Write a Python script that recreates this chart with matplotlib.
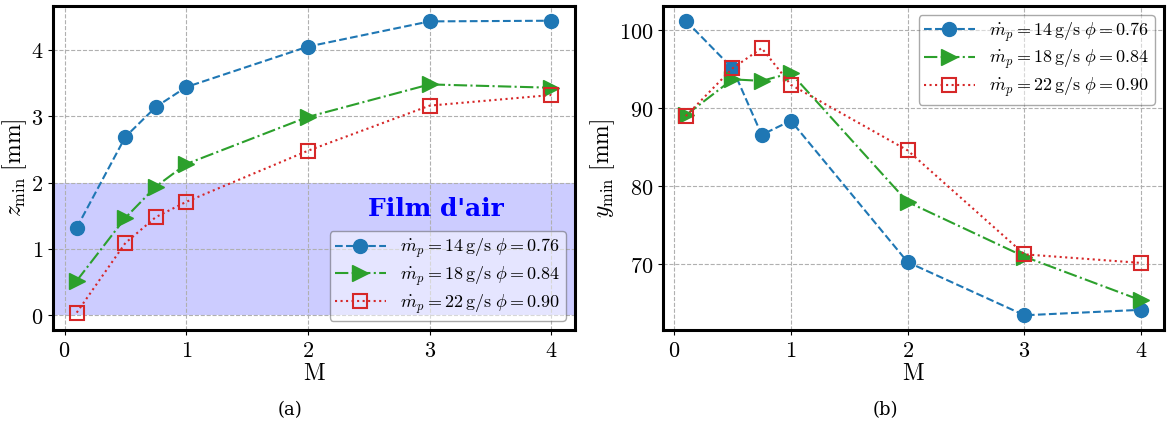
import matplotlib
matplotlib.use("Agg")
import matplotlib.pyplot as plt

plt.rcParams['mathtext.fontset'] = 'cm'
plt.rcParams['font.family'] = ['DejaVu Serif']

M = [0.1, 0.5, 0.75, 1, 2, 3, 4]

# z_min [mm]
z_14 = [1.32, 2.69, 3.14, 3.44, 4.05, 4.43, 4.44]
z_18 = [0.52, 1.47, 1.94, 2.28, 2.99, 3.48, 3.43]
z_22 = [0.04, 1.09, 1.48, 1.71, 2.48, 3.16, 3.32]

# y_min [mm]
y_14 = [101.2, 95.1, 86.6, 88.4, 70.3, 63.5, 64.2]
y_18 = [89.1, 93.7, 93.5, 94.5, 78.0, 71.0, 65.4]
y_22 = [89.0, 95.1, 97.7, 93.0, 84.6, 71.3, 70.2]

labels = [r'$\dot{m}_p = 14\,\mathrm{g/s}\ \phi = 0.76$',
          r'$\dot{m}_p = 18\,\mathrm{g/s}\ \phi = 0.84$',
          r'$\dot{m}_p = 22\,\mathrm{g/s}\ \phi = 0.90$']

styles = [dict(color='#1f77b4', ls='--', marker='o', ms=10, mfc='#1f77b4'),
          dict(color='#2ca02c', ls='-.', marker='>', ms=11, mfc='#2ca02c'),
          dict(color='#d62728', ls=':', marker='s', ms=10, mfc='none', mew=1.5)]

fig = plt.figure(figsize=(11.72, 4.32), dpi=100)
ax1 = fig.add_axes([53/1172, 102/432, 522/1172, 324/432])
ax2 = fig.add_axes([663/1172, 102/432, 501/1172, 324/432])


def style_axes(ax, ylabel, yticks):
    ax.grid(True, ls='--', color='#b0b0b0', lw=0.8)
    ax.set_axisbelow(True)
    for sp in ax.spines.values():
        sp.set_linewidth(2.2)
        sp.set_color('black')
    ax.set_xticks([0, 1, 2, 3, 4])
    ax.set_xticklabels([f'${v}$' for v in [0, 1, 2, 3, 4]], fontsize=16)
    ax.set_yticks(yticks)
    ax.set_yticklabels([f'${v}$' for v in yticks], fontsize=16)
    ax.set_xlabel(r'$\mathrm{M}$', fontsize=17, labelpad=0)
    ax.set_ylabel(ylabel, fontsize=17, labelpad=1)


for vals, st, lab in zip([z_14, z_18, z_22], styles, labels):
    ax1.plot(M, vals, lw=1.5, label=lab, **st)
ax1.axhspan(0, 2, color='blue', alpha=0.2, lw=0, zorder=0)
ax1.text(3.05, 1.6, "Film d'air", color='blue', fontsize=18, fontweight='bold',
         family='DejaVu Serif', ha='center', va='center')
style_axes(ax1, r'$z_{\min}\ [\mathrm{mm}]$', [0, 1, 2, 3, 4])
leg1 = ax1.legend(loc='lower right', fontsize=13, framealpha=0.5,
                  edgecolor='#555555', handlelength=2.8,
                  labelspacing=0.25, borderpad=0.3)

for vals, st, lab in zip([y_14, y_18, y_22], styles, labels):
    ax2.plot(M, vals, lw=1.5, label=lab, **st)
style_axes(ax2, r'$y_{\min}\ [\mathrm{mm}]$', [70, 80, 90, 100])
leg2 = ax2.legend(loc='upper right', fontsize=13, framealpha=0.5,
                  edgecolor='#555555', handlelength=2.8,
                  labelspacing=0.25, borderpad=0.3)

fig.text(290/1172, 1 - 410/432, '(a)', fontsize=13, ha='center', va='center')
fig.text(885/1172, 1 - 410/432, '(b)', fontsize=13, ha='center', va='center')

fig.savefig('out.png', dpi=100)
